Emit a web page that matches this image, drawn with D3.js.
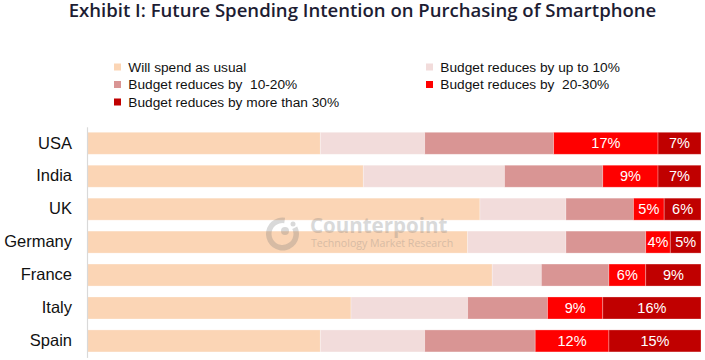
<!DOCTYPE html>
<html>
<head>
<meta charset="utf-8">
<script src="https://cdn.jsdelivr.net/npm/d3@7"></script>
<style>
  html, body { margin: 0; padding: 0; background: #fff; }
  svg { display: block; }
</style>
</head>
<body>
<svg id="chart" width="705" height="360"></svg>
<script>
// ---- Data ----
const categories = ["USA", "India", "UK", "Germany", "France", "Italy", "Spain"];
const seriesNames = [
  "Will spend as usual",
  "Budget reduces by up to 10%",
  "Budget reduces by  10-20%",
  "Budget reduces by  20-30%",
  "Budget reduces by more than 30%"
];
const spendAsUsual = [38, 45, 64, 62, 66, 43, 38];
const reduceUpTo10 = [17, 23, 14, 16, 8, 19, 17];
const reduce10to20 = [21, 16, 11, 13, 11, 13, 18];
const reduce20to30 = [17, 9, 5, 4, 6, 9, 12];
const reduceOver30 = [7, 7, 6, 5, 9, 16, 15];
const seriesValues = [spendAsUsual, reduceUpTo10, reduce10to20, reduce20to30, reduceOver30];
const labelledSeries = [3, 4];
const colors = ["#FBD5B5", "#F2DCDB", "#D99594", "#FF0000", "#C00000"];

const rows = categories.map((c, i) => {
  const r = { country: c };
  seriesNames.forEach((s, k) => r[s] = seriesValues[k][i]);
  return r;
});

const svg = d3.select("#chart");

// ---- Title ----
const title = svg.append("text")
  .attr("x", 362.5).attr("y", 16.5)
  .attr("text-anchor", "middle")
  .attr("font-family", "'Open Sans', 'Noto Sans', sans-serif")
  .attr("font-weight", 600)
  .attr("font-size", 18)
  .attr("fill", "#1d1d33")
  .text("Exhibit I: Future Spending Intention on Purchasing of Smartphone");
const tw = title.node().getComputedTextLength();
title.attr("font-size", 18 * 588 / tw);

// ---- Scales ----
const x = d3.scaleLinear().domain([0, 100]).range([87, 701]);
const y = d3.scaleBand().domain(categories).range([126.8, 357.4])
  .paddingInner(0.332).paddingOuter(0.166);

const stack = d3.stack().keys(seriesNames);
const stacked = stack(rows);

// Bars
const g = svg.append("g");
g.selectAll("g.series")
  .data(stacked)
  .join("g")
  .attr("class", "series")
  .attr("fill", (d, i) => colors[i])
  .selectAll("rect")
  .data(d => d)
  .join("rect")
  .attr("x", d => x(d[0]))
  .attr("y", d => y(d.data.country))
  .attr("width", d => x(d[1]) - x(d[0]))
  .attr("height", y.bandwidth())
  .attr("stroke", "#ffffff")
  .attr("stroke-opacity", 0.35)
  .attr("stroke-width", 0.8);

// Value labels
stacked.forEach((s, k) => {
  if (!labelledSeries.includes(k)) return;
  svg.append("g").selectAll("text")
    .data(s)
    .join("text")
    .attr("x", d => (x(d[0]) + x(d[1])) / 2)
    .attr("y", d => y(d.data.country) + y.bandwidth() / 2)
    .attr("dy", "0.36em")
    .attr("text-anchor", "middle")
    .attr("font-family", "'Liberation Sans', Arial, sans-serif")
    .attr("font-size", 14.5)
    .attr("fill", "#ffffff")
    .text(d => (d[1] - d[0]) + "%");
});

// Axis (category)
const yAxis = d3.axisLeft(y).tickSize(0).tickPadding(15);
const ax = svg.append("g").attr("transform", "translate(87,0)").call(yAxis);
ax.select(".domain").attr("stroke", "#d9d9d9").attr("stroke-width", 1.2);
ax.selectAll("text")
  .attr("font-family", "'Liberation Sans', Arial, sans-serif")
  .attr("font-size", 16.5)
  .attr("fill", "#111");

// Watermark
const wm = svg.append("g").attr("opacity", 0.28).attr("fill", "#7a7a7a");
wm.append("path")
  .attr("transform", "translate(282.5,234)")
  .attr("d", d3.arc().innerRadius(11).outerRadius(16.5)
    .startAngle(Math.PI * 0.35).endAngle(Math.PI * 2.05)())
  .attr("fill", "#7a7a7a");
wm.append("circle").attr("cx", 285).attr("cy", 231).attr("r", 4);
wm.append("circle").attr("cx", 293).attr("cy", 224).attr("r", 2.5);
wm.append("text").attr("x", 310).attr("y", 233)
  .attr("font-family", "'Open Sans', sans-serif").attr("font-weight", 700)
  .attr("font-size", 20.5).text("Counterpoint");
wm.append("text").attr("x", 311).attr("y", 247)
  .attr("font-family", "'Open Sans', sans-serif")
  .attr("font-size", 10.6).text("Technology Market Research");

// ---- Legend ----
const legendItems = [
  { k: 0, x: 114, y: 67 },
  { k: 1, x: 426, y: 67 },
  { k: 2, x: 114, y: 84.5 },
  { k: 3, x: 426, y: 84.5 },
  { k: 4, x: 114, y: 102 }
];
const lg = svg.append("g");
legendItems.forEach(it => {
  lg.append("rect").attr("x", it.x).attr("y", it.y - 3.5)
    .attr("width", 7).attr("height", 7).attr("fill", colors[it.k]);
  lg.append("text").attr("x", it.x + 14.3).attr("y", it.y)
    .attr("dy", "0.35em")
    .attr("font-family", "'Liberation Sans', Arial, sans-serif")
    .attr("font-size", 13.7)
    .attr("fill", "#111")
    .style("white-space", "pre")
    .attr("xml:space", "preserve")
    .text(seriesNames[it.k]);
});
</script>
</body>
</html>
